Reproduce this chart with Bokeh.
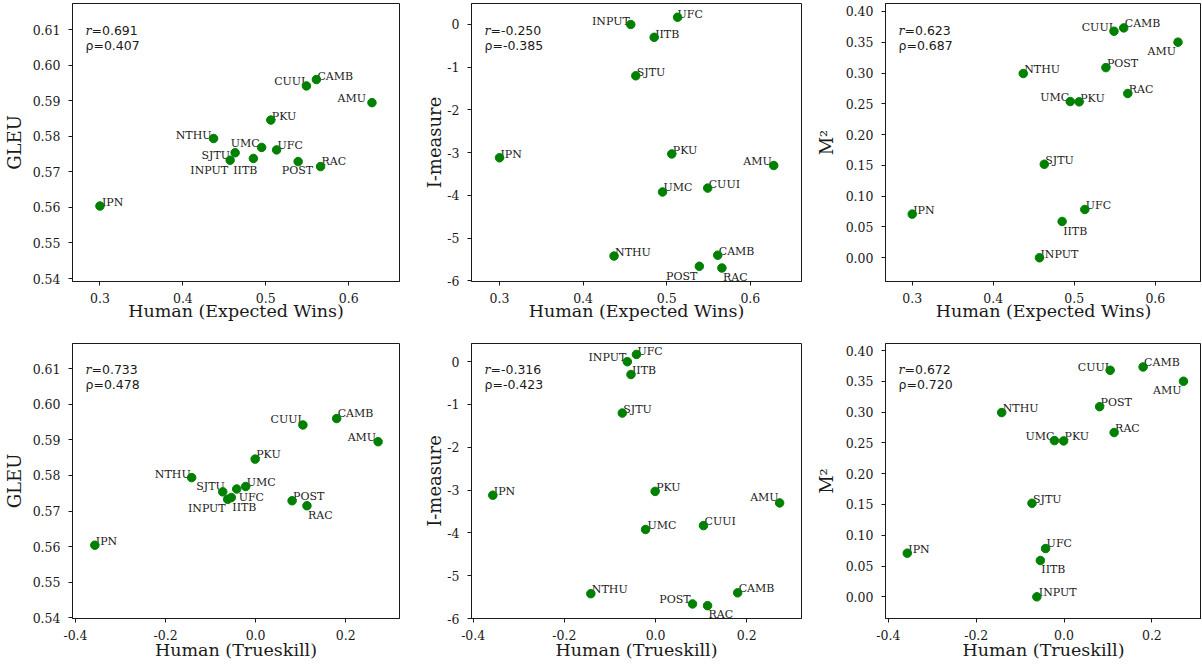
from bokeh.plotting import figure
from bokeh.models import Range1d, FixedTicker, PrintfTickFormatter, ColumnDataSource, Label
from bokeh.layouts import column, row
from bokeh.core.properties import value
from bokeh.embed import file_html
from bokeh.resources import INLINE

# ---------------- data ----------------
teams = ["AMU", "CAMB", "CUUI", "IITB", "INPUT", "IPN", "NTHU", "PKU", "POST", "RAC", "SJTU", "UFC", "UMC"]
expected_wins = [0.628, 0.561, 0.549, 0.485, 0.457, 0.300, 0.437, 0.506, 0.539, 0.566, 0.463, 0.513, 0.495]
trueskill = [0.272, 0.180, 0.105, -0.054, -0.062, -0.357, -0.142, -0.001, 0.081, 0.114, -0.073, -0.042, -0.022]
gleu = [0.5895, 0.5960, 0.5942, 0.5738, 0.5733, 0.5604, 0.5794, 0.5846, 0.5729, 0.5715, 0.5754, 0.5762, 0.5769]
imeasure = [-3.30, -5.40, -3.83, -0.30, 0.00, -3.12, -5.42, -3.03, -5.66, -5.70, -1.20, 0.17, -3.92]
m2 = [0.3501, 0.3733, 0.3679, 0.0590, 0.0000, 0.0709, 0.2992, 0.2532, 0.3088, 0.2668, 0.1519, 0.0784, 0.2537]

ew_ticks = [0.3, 0.4, 0.5, 0.6]
ts_ticks = [-0.4, -0.2, 0.0, 0.2]
gleu_ticks = [0.54, 0.55, 0.56, 0.57, 0.58, 0.59, 0.60, 0.61]
im_ticks = [-6, -5, -4, -3, -2, -1, 0]
m2_ticks = [0.00, 0.05, 0.10, 0.15, 0.20, 0.25, 0.30, 0.35, 0.40]

corr_r = ["0.691", "-0.250", "0.623", "0.733", "-0.316", "0.672"]
corr_rho = ["0.407", "-0.385", "0.687", "0.478", "-0.423", "0.720"]

x_titles = ["Human (Expected Wins)", "Human (Trueskill)"]
y_titles = ["GLEU", "I-measure", "M²"]

# label placement (align, dx px, dy px; dy positive = downwards)
label_pos = [
    {"AMU": ("right", -6, -4), "CAMB": ("left", 1, -3), "CUUI": ("right", -1, -4), "IITB": ("right", 4, 12),
     "INPUT": ("right", -2, 10), "IPN": ("left", 2, -4), "NTHU": ("right", -2, -3), "PKU": ("left", 1, -4),
     "POST": ("right", 15, 9), "RAC": ("left", 1, -5), "SJTU": ("right", -5, 3), "UFC": ("left", 1, -4),
     "UMC": ("right", -2, -4)},
    {"AMU": ("right", -2, -4), "CAMB": ("left", 1, -4), "CUUI": ("left", 1, -4), "IITB": ("left", 1, -3),
     "INPUT": ("right", -1, -3), "IPN": ("left", 1, -3), "NTHU": ("left", 1, -4), "PKU": ("left", 1, -3),
     "POST": ("right", -2, 10), "RAC": ("left", 1, 9), "SJTU": ("left", 1, -3), "UFC": ("left", 0, -3),
     "UMC": ("left", 1, -4)},
    {"AMU": ("right", -2, 9), "CAMB": ("left", 1, -4), "CUUI": ("right", -1, -4), "IITB": ("left", 1, 10),
     "INPUT": ("left", 1, -3), "IPN": ("left", 1, -4), "NTHU": ("left", 1, -4), "PKU": ("left", 1, -3),
     "POST": ("left", 1, -4), "RAC": ("left", 1, -4), "SJTU": ("left", 1, -4), "UFC": ("left", 1, -4),
     "UMC": ("right", -1, -4)},
    {"AMU": ("right", -2, -4), "CAMB": ("left", 1, -5), "CUUI": ("right", -1, -5), "IITB": ("left", 1, 10),
     "INPUT": ("right", -2, 9), "IPN": ("left", 1, -4), "NTHU": ("right", -1, -3), "PKU": ("left", 1, -5),
     "POST": ("left", 1, -4), "RAC": ("left", 1, 10), "SJTU": ("right", 2, -5), "UFC": ("left", 2, 8),
     "UMC": ("left", 1, -4)},
    {"AMU": ("right", -1, -5), "CAMB": ("left", 1, -4), "CUUI": ("left", 1, -4), "IITB": ("left", 1, -4),
     "INPUT": ("right", -1, -4), "IPN": ("left", 1, -4), "NTHU": ("left", 1, -4), "PKU": ("left", 1, -4),
     "POST": ("right", -2, -4), "RAC": ("left", 1, 9), "SJTU": ("left", 1, -4), "UFC": ("left", 1, -3),
     "UMC": ("left", 2, -4)},
    {"AMU": ("right", -2, 9), "CAMB": ("left", 1, -4), "CUUI": ("right", -1, -3), "IITB": ("left", 1, 9),
     "INPUT": ("left", 2, -4), "IPN": ("left", 1, -4), "NTHU": ("left", 1, -4), "PKU": ("left", 1, -4),
     "POST": ("left", 1, -4), "RAC": ("left", 1, -4), "SJTU": ("left", 1, -4), "UFC": ("left", 1, -5),
     "UMC": ("right", 0, -4)},
]

# ---------------- styling ----------------
INK = "#1a1a1a"
GREEN = "#008000"
SERIF = "DejaVu Serif"
SANS = "DejaVu Sans"

panels = [
    # x data, y data, x ticks, y ticks, x fmt, y fmt, x range, y range, width, borders(l,r,t,b), xtitle idx, ytitle idx
    (expected_wins, gleu, ew_ticks, gleu_ticks, "%.1f", "%.2f", (0.2669, 0.6612), (0.53916, 0.61740), 410, (69, 11, 3, 49), 0, 0),
    (expected_wins, imeasure, ew_ticks, im_ticks, "%.1f", "%d", (0.2665, 0.6612), (-6.016, 0.4915), 402, (61, 11, 3, 49), 0, 1),
    (expected_wins, m2, ew_ticks, m2_ticks, "%.1f", "%.2f", (0.267, 0.657), (-0.0385, 0.4129), 389, (61, 0, 3, 49), 0, 2),
    (trueskill, gleu, ts_ticks, gleu_ticks, "%.1f", "%.2f", (-0.4066, 0.3195), (0.5398, 0.6171), 410, (69, 11, 13, 47), 1, 0),
    (trueskill, imeasure, ts_ticks, im_ticks, "%.1f", "%d", (-0.4037, 0.3200), (-6.0, 0.425), 402, (61, 11, 13, 47), 1, 1),
    (trueskill, m2, ts_ticks, m2_ticks, "%.1f", "%.2f", (-0.4066, 0.3130), (-0.0352, 0.4114), 389, (61, 0, 13, 47), 1, 2),
]
ytitle_standoff = [5, -1, 6]

figs = []
for i, (xs, ys, xt, yt, xf, yf, xr, yr, w, (bl, br, bt, bb), xi, yi) in enumerate(panels):
    h = 330 if i < 3 else 335
    p = figure(width=w, height=h, x_range=Range1d(*xr), y_range=Range1d(*yr),
               output_backend="svg", toolbar_location=None,
               min_border_left=bl, min_border_right=br, min_border_top=bt, min_border_bottom=bb)
    p.grid.visible = False
    p.outline_line_color = INK
    p.outline_line_width = 1
    p.background_fill_color = "white"
    p.border_fill_color = "white"

    for ax in (p.xaxis[0], p.yaxis[0]):
        ax.axis_line_color = INK
        ax.major_tick_line_color = INK
        ax.major_tick_out = 4
        ax.major_tick_in = 0
        ax.minor_tick_line_color = None
        ax.major_label_text_font = SERIF
        ax.major_label_text_font_size = "12.5px"
        ax.major_label_text_color = INK
        ax.axis_label_text_font = SERIF
        ax.axis_label_text_font_style = "normal"
        ax.axis_label_text_color = INK

    p.xaxis.ticker = FixedTicker(ticks=xt)
    p.yaxis.ticker = FixedTicker(ticks=yt)
    p.xaxis.formatter = PrintfTickFormatter(format=xf)
    p.yaxis.formatter = PrintfTickFormatter(format=yf)
    p.xaxis.major_label_standoff = 7
    p.yaxis.major_label_standoff = 8
    p.xaxis.axis_label = x_titles[xi]
    p.yaxis.axis_label = y_titles[yi]
    p.xaxis.axis_label_text_font_size = "17.5px"
    p.yaxis.axis_label_text_font_size = "18px"
    p.xaxis.axis_label_standoff = -5 if i < 3 else -3
    p.yaxis.axis_label_standoff = ytitle_standoff[yi]

    # point labels
    pos = label_pos[i]
    for align in ("left", "right"):
        sel = [k for k, t in enumerate(teams) if pos[t][0] == align]
        src = ColumnDataSource(dict(
            x=[xs[k] for k in sel], y=[ys[k] for k in sel], t=[teams[k] for k in sel],
            dx=[pos[teams[k]][1] for k in sel], dy=[pos[teams[k]][2] for k in sel]))
        p.text(x="x", y="y", text="t", x_offset="dx", y_offset="dy", source=src,
               text_font=value(SERIF), text_font_size="11px", text_color=INK,
               text_align=align, text_baseline="alphabetic")

    p.scatter(xs, ys, size=8.5, color=GREEN, line_color=GREEN)

    # correlation annotations
    top_off = 27 if i < 3 else 26
    p.add_layout(Label(x=xr[0], y=yr[1], x_offset=13, y_offset=-top_off, text="r",
                       text_font=SERIF, text_font_style="italic", text_font_size="12.5px",
                       text_color=INK, text_baseline="alphabetic"))
    p.add_layout(Label(x=xr[0], y=yr[1], x_offset=19, y_offset=-top_off, text="=" + corr_r[i],
                       text_font=SANS, text_font_size="12.5px",
                       text_color=INK, text_baseline="alphabetic"))
    p.add_layout(Label(x=xr[0], y=yr[1], x_offset=13, y_offset=-(top_off + 15), text="ρ=" + corr_rho[i],
                       text_font=SANS, text_font_size="12.5px",
                       text_color=INK, text_baseline="alphabetic"))
    figs.append(p)

layout = column(row(*figs[:3]), row(*figs[3:]))
open("out.html", "w").write(file_html(layout, INLINE))
